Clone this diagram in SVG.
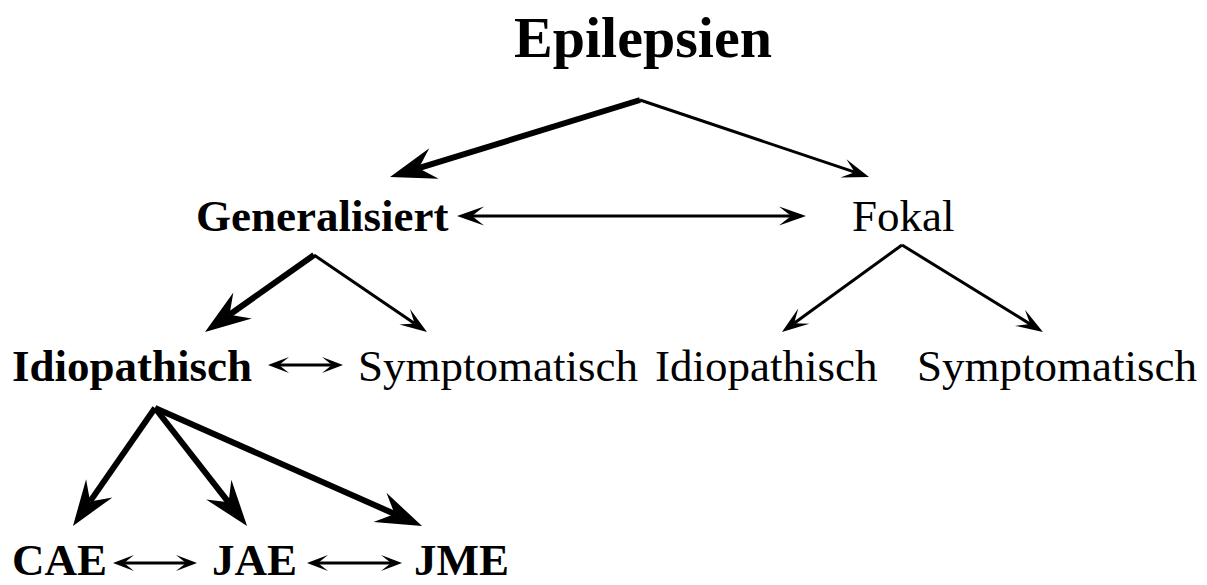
<svg xmlns="http://www.w3.org/2000/svg" width="1207" height="585" viewBox="0 0 1207 585">
<style>
text{font-family:"Liberation Serif","Times New Roman",serif;fill:#000}
.b{font-weight:bold;font-size:45px}
.r{font-size:45px}
.t{font-weight:bold;font-size:58px}
.thin{stroke:#000;stroke-width:3;fill:none}
.thick{stroke:#000;stroke-width:6;fill:none}
.thin.e{marker-end:url(#ah)}
.thin.d{marker-start:url(#ah);marker-end:url(#ah)}
.thin.s{marker-start:url(#ahs);marker-end:url(#ahs)}
.thick.e{marker-end:url(#ahk)}
</style>
<defs>
<marker id="ah" viewBox="-14 -11 32 22" refX="0" refY="0" markerWidth="32" markerHeight="22" markerUnits="userSpaceOnUse" orient="auto-start-reverse">
<path d="M15,0 L-12,-9.5 L0,0 L-12,9.5 Z" fill="#000"/>
</marker>
<marker id="ahs" viewBox="-12 -10 30 20" refX="0" refY="0" markerWidth="30" markerHeight="20" markerUnits="userSpaceOnUse" orient="auto-start-reverse">
<path d="M11,0 L-10,-8 L0,0 L-10,8 Z" fill="#000"/>
</marker>
<marker id="ahk" viewBox="-20 -18 54 36" refX="0" refY="0" markerWidth="54" markerHeight="36" markerUnits="userSpaceOnUse" orient="auto-start-reverse">
<path d="M30,0 L-16,-16 L0,0 L-16,16 Z" fill="#000"/>
</marker>
</defs>
<g id="connectors">
<path class="thick e" d="M640,100 L418.7,168.2"/>
<path class="thin e" d="M640,100 L854.8,172.2"/>
<path class="thin d" d="M472,216 L791,216"/>
<path class="thick e" d="M314,255 L229.5,314.7"/>
<path class="thin e" d="M314,255 L414.6,323.5"/>
<path class="thin s" d="M279,365 L332,365"/>
<path class="thin e" d="M902,245 L794.1,323.2"/>
<path class="thin e" d="M902,245 L1030.2,324.1"/>
<path class="thick e" d="M155,408 L90.1,501.4"/>
<path class="thick e" d="M155,408 L228.6,502.3"/>
<path class="thick e" d="M155,408 L394.6,513.9"/>
<path class="thin s" d="M124,563 L186,563"/>
<path class="thin s" d="M318,563 L391,563"/>
</g>
<g id="epilepsien"><text class="t" x="643" y="57" text-anchor="middle">Epilepsien</text></g>
<g id="generalisiert"><text class="b" x="196" y="231">Generalisiert</text></g>
<g id="fokal"><text class="r" x="852" y="231">Fokal</text></g>
<g id="gen-idiopathisch"><text class="b" x="12" y="381">Idiopathisch</text></g>
<g id="gen-symptomatisch"><text class="r" x="358" y="381">Symptomatisch</text></g>
<g id="fok-idiopathisch"><text class="r" x="655" y="381">Idiopathisch</text></g>
<g id="fok-symptomatisch"><text class="r" x="917" y="381">Symptomatisch</text></g>
<g id="cae"><text class="b" x="12" y="575">CAE</text></g>
<g id="jae"><text class="b" x="212" y="575">JAE</text></g>
<g id="jme"><text class="b" x="414" y="575">JME</text></g>
</svg>
